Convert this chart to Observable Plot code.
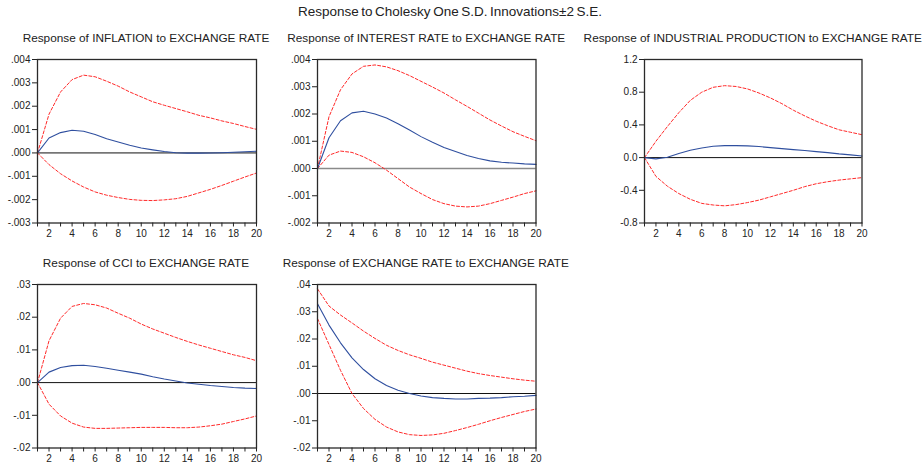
<!DOCTYPE html>
<html>
<head>
<meta charset="utf-8">
<script src="https://cdn.jsdelivr.net/npm/d3@7"></script>
<script src="https://cdn.jsdelivr.net/npm/@observablehq/plot@0.6"></script>
<style>
  html, body { margin: 0; padding: 0; background: #fff; }
  #chart { position: relative; width: 924px; height: 466px; overflow: hidden; font-family: "Liberation Sans", Arial, sans-serif; color: #222; }
  .title { position: absolute; white-space: nowrap; transform: translateX(-50%); font-size: 11.8px; line-height: 14px; color: #222; }
  .main { position: absolute; white-space: nowrap; transform: translateX(-50%); font-size: 13.5px; word-spacing: -1.2px; line-height: 16px; color: #222; }
  svg { position: absolute; }
</style>
</head>
<body>
<div id="chart"></div>
<script>
const mainTitle = "Response to Cholesky One S.D. Innovations\u00b12 S.E.";
const steps = [1,2,3,4,5,6,7,8,9,10,11,12,13,14,15,16,17,18,19,20];

// Panel 1: INFLATION
const inflTitle = "Response of INFLATION to EXCHANGE RATE";
const inflResp  = [0,0.00064,0.00087,0.00097,0.00093,0.00079,0.00061,0.00047,0.00033,0.00021,0.00013,0.00006,0.00001,-0.00001,-0.00001,0,0.00001,0.00003,0.00005,0.00007];
const inflUpper = [0,0.00166,0.00261,0.00314,0.00333,0.00326,0.00307,0.00286,0.00261,0.0024,0.00219,0.00204,0.0019,0.00176,0.00161,0.0015,0.00137,0.00126,0.00113,0.00101];
const inflLower = [0,-0.0005,-0.00089,-0.0012,-0.00146,-0.00167,-0.00181,-0.00191,-0.00199,-0.00203,-0.00204,-0.00201,-0.00196,-0.00186,-0.00171,-0.00156,-0.00139,-0.00121,-0.00103,-0.00086];
const inflTicks = [-0.003,-0.002,-0.001,0,0.001,0.002,0.003,0.004];

// Panel 2: INTEREST RATE
const intTitle = "Response of INTEREST RATE to EXCHANGE RATE";
const intResp  = [0,0.00113,0.00175,0.00204,0.0021,0.002,0.00185,0.00164,0.00141,0.00117,0.00096,0.00077,0.00062,0.00048,0.00037,0.00028,0.00023,0.0002,0.00017,0.00015];
const intUpper = [0,0.0019,0.00289,0.00347,0.00375,0.0038,0.00373,0.00359,0.00341,0.0032,0.00299,0.00277,0.00252,0.00228,0.00203,0.00178,0.00156,0.00135,0.00118,0.00102];
const intLower = [0,0.00049,0.00064,0.00059,0.00043,0.00021,-0.00006,-0.00037,-0.00068,-0.00092,-0.00114,-0.00129,-0.00138,-0.00141,-0.00138,-0.00129,-0.00117,-0.00105,-0.00092,-0.00082];
const intTicks = [-0.002,-0.001,0,0.001,0.002,0.003,0.004];

// Panel 3: INDUSTRIAL PRODUCTION
const ipTitle = "Response of INDUSTRIAL PRODUCTION to EXCHANGE RATE";
const ipResp  = [0,-0.016,0.004,0.05,0.09,0.118,0.139,0.147,0.147,0.143,0.135,0.122,0.11,0.098,0.086,0.073,0.061,0.045,0.033,0.02];
const ipUpper = [0,0.2,0.38,0.55,0.7,0.8,0.86,0.88,0.87,0.84,0.79,0.73,0.66,0.58,0.51,0.445,0.39,0.34,0.31,0.28];
const ipLower = [0,-0.23,-0.35,-0.44,-0.51,-0.56,-0.58,-0.59,-0.575,-0.55,-0.52,-0.48,-0.44,-0.4,-0.355,-0.32,-0.295,-0.275,-0.26,-0.245];
const ipTicks = [-0.8,-0.4,0,0.4,0.8,1.2];

// Panel 4: CCI
const cciTitle = "Response of CCI to EXCHANGE RATE";
const cciResp  = [0,0.0032,0.0046,0.0052,0.0053,0.0049,0.0044,0.0038,0.0032,0.0026,0.0018,0.0011,0.0005,-0.0001,-0.0005,-0.0009,-0.0012,-0.0015,-0.0017,-0.0018];
const cciUpper = [0,0.0128,0.0197,0.0233,0.0242,0.0238,0.0228,0.0212,0.0197,0.0179,0.0164,0.0151,0.0138,0.0126,0.0115,0.0105,0.0095,0.0085,0.0077,0.0067];
const cciLower = [0,-0.0066,-0.0102,-0.0124,-0.0136,-0.014,-0.014,-0.0139,-0.0138,-0.0137,-0.0137,-0.0137,-0.0138,-0.0138,-0.0136,-0.0132,-0.0127,-0.0119,-0.0111,-0.0102];
const cciTicks = [-0.02,-0.01,0,0.01,0.02,0.03];

// Panel 5: EXCHANGE RATE
const exTitle = "Response of EXCHANGE RATE to EXCHANGE RATE";
const exResp  = [0.0329,0.0251,0.0186,0.0131,0.0088,0.0054,0.0029,0.0012,0.0,-0.0009,-0.0015,-0.0018,-0.002,-0.002,-0.0018,-0.0017,-0.0015,-0.0012,-0.001,-0.0007];
const exUpper = [0.0384,0.0321,0.0288,0.0259,0.0229,0.0202,0.0177,0.0158,0.0142,0.0129,0.0115,0.0104,0.0093,0.0082,0.0073,0.0066,0.006,0.0054,0.0049,0.0045];
const exLower = [0.0275,0.018,0.0085,0.0,-0.0055,-0.0095,-0.0123,-0.0141,-0.0151,-0.0154,-0.0152,-0.0146,-0.0136,-0.0125,-0.0113,-0.01,-0.0088,-0.0077,-0.0066,-0.0057];
const exTicks = [-0.02,-0.01,0,0.01,0.02,0.03,0.04];

const fontFamily = "'Liberation Sans', Arial, sans-serif";
const chart = document.getElementById("chart");

function addText(cls, text, x, y) {
  const d = document.createElement("div");
  d.className = cls;
  d.textContent = text;
  d.style.left = x + "px";
  d.style.top = y + "px";
  chart.appendChild(d);
}

function stripZero(digits) {
  return v => {
    const s = Number(v).toFixed(digits);
    return s.replace(/^0\./, ".").replace(/^-0\./, "-.");
  };
}

function panel(cfg) {
  const padL = 40, padR = 10, padT = 8, padB = 22;
  const width = cfg.R - cfg.L + padL + padR;
  const height = cfg.B - cfg.T + padT + padB;
  const rows = steps.map((s, i) => ({s, v: cfg.resp[i], u: cfg.upper[i], l: cfg.lower[i]}));
  const svg = Plot.plot({
    width, height,
    marginLeft: padL, marginRight: padR, marginTop: padT, marginBottom: padB,
    style: {fontFamily, fontSize: "10px", color: "#222", background: "transparent", overflow: "visible"},
    x: {domain: [1, 20]},
    y: {domain: cfg.yDomain},
    marks: [
      Plot.ruleY([0], {stroke: cfg.zeroColor || "#111", strokeWidth: cfg.zeroWidth || 1}),
      Plot.line(rows, {x: "s", y: "u", stroke: "#ff2a2a", strokeWidth: 1, strokeDasharray: "3,2"}),
      Plot.line(rows, {x: "s", y: "l", stroke: "#ff2a2a", strokeWidth: 1, strokeDasharray: "3,2"}),
      Plot.line(rows, {x: "s", y: "v", stroke: "#2f4f9f", strokeWidth: 1.1}),
      Plot.frame({stroke: "#2a2a2a", strokeWidth: 1.3}),
      Plot.axisY({ticks: cfg.yTicks, tickFormat: cfg.yFmt, tickSize: 5, tickPadding: 2, label: null}),
      Plot.axisX({ticks: steps, tickFormat: d => d % 2 === 0 ? String(d) : "", tickSize: 4, tickPadding: 3, label: null})
    ]
  });
  svg.style.left = (cfg.L - padL) + "px";
  svg.style.top = (cfg.T - padT) + "px";
  chart.appendChild(svg);
  addText("title", cfg.title, (cfg.L + cfg.R) / 2, cfg.titleY - 7);
}

addText("main", mainTitle, 450, 4);

panel({title: inflTitle, L: 36.5, R: 255.5, T: 58.5, B: 222, titleY: 38,
  yDomain: [-0.003, 0.004], yTicks: inflTicks, yFmt: stripZero(3),
  resp: inflResp, upper: inflUpper, lower: inflLower});
panel({title: intTitle, L: 317, R: 535.5, T: 58.5, B: 222, titleY: 38,
  yDomain: [-0.002, 0.004], yTicks: intTicks, yFmt: stripZero(3),
  resp: intResp, upper: intUpper, lower: intLower, zeroColor: "#8a8a8a", zeroWidth: 1.6});
panel({title: ipTitle, L: 644, R: 861.5, T: 58.5, B: 222, titleY: 38,
  yDomain: [-0.8, 1.2], yTicks: ipTicks, yFmt: v => Number(v).toFixed(1),
  resp: ipResp, upper: ipUpper, lower: ipLower});
panel({title: cciTitle, L: 36.5, R: 255.5, T: 283.5, B: 447, titleY: 263,
  yDomain: [-0.02, 0.03], yTicks: cciTicks, yFmt: stripZero(2),
  resp: cciResp, upper: cciUpper, lower: cciLower});
panel({title: exTitle, L: 316.5, R: 535, T: 283.5, B: 447, titleY: 263,
  yDomain: [-0.02, 0.04], yTicks: exTicks, yFmt: stripZero(2),
  resp: exResp, upper: exUpper, lower: exLower});
</script>
</body>
</html>
